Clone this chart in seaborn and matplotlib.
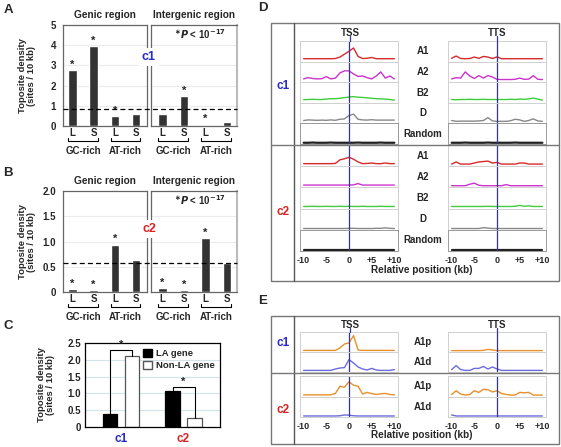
import numpy as np
import pandas as pd
import seaborn as sns
import matplotlib.pyplot as plt
from matplotlib.patches import Rectangle
from matplotlib.lines import Line2D
import matplotlib.transforms as mtrans

# 1. Dados
cats = ['GC-L', 'GC-S', 'AT-L', 'AT-S']
tick_ls = ['L', 'S', 'L', 'S']
grupos = ['GC-rich', 'AT-rich']

a_genic = [2.75, 3.94, 0.49, 0.59]
a_inter = [0.61, 1.47, 0.07, 0.22]
a_mean = 0.83
a_star_genic = [1, 1, 1, 0]
a_star_inter = [0, 1, 1, 0]

b_genic = [0.05, 0.03, 0.94, 0.64]
b_inter = [0.08, 0.03, 1.06, 0.58]
b_mean = 0.58
b_star_genic = [1, 1, 1, 0]
b_star_inter = [1, 1, 1, 0]

c_clusters = ['c1', 'c2']
c_genes = ['LA gene', 'Non-LA gene']
c_la = [0.40, 1.08]
c_nonla = [2.10, 0.26]
c_bracket = [2.30, 1.19]

pos_kb = [-10, -9, -8, -7, -6, -5, -4, -3, -2, -1, 0, 1, 2, 3, 4, 5, 6, 7, 8, 9, 10]
xtick_pos = [-10, -5, 0, 5, 10]
xtick_lab = ['-10', '-5', '0', '+5', '+10']

# D - c1
c1_tss_a1 = [0.14, 0.14, 0.14, 0.14, 0.14, 0.14, 0.14, 0.15, 0.22, 0.36, 0.5, 0.66, 0.25, 0.15, 0.16, 0.2, 0.14, 0.14, 0.14, 0.14, 0.14]
c1_tss_a2 = [0.16, 0.22, 0.18, 0.16, 0.17, 0.27, 0.16, 0.2, 0.45, 0.55, 0.55, 0.4, 0.28, 0.3, 0.22, 0.16, 0.3, 0.5, 0.2, 0.3, 0.16]
c1_tss_b2 = [0.15, 0.16, 0.17, 0.16, 0.16, 0.18, 0.2, 0.2, 0.22, 0.25, 0.28, 0.3, 0.27, 0.26, 0.24, 0.22, 0.2, 0.19, 0.18, 0.16, 0.13]
c1_tss_d = [0.14, 0.17, 0.16, 0.15, 0.16, 0.15, 0.17, 0.15, 0.2, 0.22, 0.38, 0.45, 0.2, 0.17, 0.16, 0.18, 0.16, 0.16, 0.16, 0.16, 0.16]
c1_tss_rnd = [0.06, 0.06, 0.07, 0.06, 0.06, 0.06, 0.07, 0.06, 0.06, 0.06, 0.06, 0.06, 0.07, 0.06, 0.06, 0.06, 0.06, 0.07, 0.06, 0.06, 0.06]
c1_tts_a1 = [0.16, 0.27, 0.15, 0.14, 0.15, 0.22, 0.16, 0.25, 0.22, 0.15, 0.23, 0.14, 0.14, 0.14, 0.14, 0.14, 0.14, 0.14, 0.14, 0.14, 0.14]
c1_tts_a2 = [0.16, 0.22, 0.2, 0.5, 0.3, 0.18, 0.32, 0.2, 0.32, 0.25, 0.14, 0.13, 0.13, 0.13, 0.14, 0.2, 0.14, 0.15, 0.32, 0.14, 0.13]
c1_tts_b2 = [0.16, 0.15, 0.16, 0.16, 0.17, 0.16, 0.16, 0.17, 0.16, 0.16, 0.16, 0.16, 0.16, 0.17, 0.16, 0.18, 0.17, 0.19, 0.23, 0.18, 0.13]
c1_tts_d = [0.14, 0.1, 0.11, 0.11, 0.11, 0.11, 0.12, 0.14, 0.28, 0.12, 0.1, 0.1, 0.1, 0.13, 0.2, 0.17, 0.1, 0.14, 0.22, 0.12, 0.1]
c1_tts_rnd = [0.06, 0.06, 0.06, 0.07, 0.06, 0.06, 0.06, 0.06, 0.07, 0.06, 0.06, 0.06, 0.06, 0.06, 0.07, 0.06, 0.06, 0.06, 0.06, 0.06, 0.06]

# D - c2
c2_tss_a1 = [0.12, 0.12, 0.12, 0.12, 0.12, 0.12, 0.12, 0.13, 0.3, 0.35, 0.42, 0.33, 0.2, 0.12, 0.13, 0.15, 0.12, 0.12, 0.15, 0.12, 0.12]
c2_tss_a2 = [0.11, 0.11, 0.11, 0.11, 0.11, 0.11, 0.11, 0.11, 0.11, 0.11, 0.11, 0.12, 0.18, 0.11, 0.11, 0.11, 0.11, 0.11, 0.11, 0.11, 0.11]
c2_tss_b2 = [0.1, 0.1, 0.11, 0.1, 0.1, 0.11, 0.1, 0.1, 0.11, 0.1, 0.11, 0.1, 0.1, 0.11, 0.1, 0.1, 0.1, 0.11, 0.1, 0.1, 0.1]
c2_tss_d = [0.06, 0.06, 0.06, 0.06, 0.06, 0.06, 0.06, 0.06, 0.06, 0.06, 0.07, 0.07, 0.06, 0.06, 0.06, 0.06, 0.07, 0.07, 0.09, 0.07, 0.06]
c2_tss_rnd = [0.05, 0.05, 0.05, 0.05, 0.05, 0.05, 0.05, 0.05, 0.05, 0.05, 0.05, 0.05, 0.05, 0.05, 0.05, 0.05, 0.05, 0.05, 0.05, 0.05, 0.05]
c2_tts_a1 = [0.1, 0.2, 0.1, 0.1, 0.1, 0.15, 0.2, 0.22, 0.24, 0.15, 0.18, 0.1, 0.1, 0.1, 0.1, 0.15, 0.15, 0.1, 0.1, 0.1, 0.1]
c2_tts_a2 = [0.08, 0.08, 0.08, 0.08, 0.15, 0.2, 0.1, 0.08, 0.08, 0.08, 0.08, 0.08, 0.13, 0.08, 0.08, 0.08, 0.08, 0.08, 0.08, 0.08, 0.08]
c2_tts_b2 = [0.1, 0.1, 0.1, 0.1, 0.1, 0.1, 0.1, 0.1, 0.11, 0.1, 0.1, 0.1, 0.1, 0.1, 0.11, 0.15, 0.11, 0.13, 0.1, 0.1, 0.1]
c2_tts_d = [0.06, 0.06, 0.06, 0.06, 0.06, 0.06, 0.06, 0.1, 0.08, 0.06, 0.06, 0.06, 0.06, 0.06, 0.06, 0.06, 0.06, 0.06, 0.06, 0.06, 0.06]
c2_tts_rnd = [0.05, 0.05, 0.05, 0.05, 0.05, 0.05, 0.05, 0.05, 0.05, 0.05, 0.05, 0.05, 0.05, 0.05, 0.05, 0.05, 0.05, 0.05, 0.05, 0.05, 0.05]

# E
e_c1_tss_a1p = [0.08, 0.08, 0.08, 0.08, 0.08, 0.08, 0.08, 0.08, 0.2, 0.4, 0.45, 0.82, 0.1, 0.08, 0.08, 0.08, 0.08, 0.08, 0.08, 0.08, 0.08]
e_c1_tss_a1d = [0.08, 0.08, 0.08, 0.08, 0.08, 0.08, 0.08, 0.15, 0.2, 0.22, 0.62, 0.45, 0.25, 0.15, 0.1, 0.18, 0.1, 0.08, 0.08, 0.08, 0.12]
e_c2_tss_a1p = [0.08, 0.08, 0.08, 0.08, 0.08, 0.08, 0.08, 0.15, 0.5, 0.45, 0.72, 0.55, 0.5, 0.12, 0.2, 0.14, 0.1, 0.13, 0.15, 0.1, 0.08]
e_c2_tss_a1d = [0.05, 0.05, 0.05, 0.05, 0.05, 0.05, 0.05, 0.05, 0.06, 0.1, 0.09, 0.06, 0.05, 0.05, 0.05, 0.05, 0.05, 0.05, 0.05, 0.05, 0.05]
e_c1_tts_a1p = [0.07, 0.07, 0.07, 0.07, 0.07, 0.07, 0.07, 0.08, 0.13, 0.1, 0.07, 0.07, 0.07, 0.07, 0.07, 0.07, 0.07, 0.07, 0.07, 0.07, 0.07]
e_c1_tts_a1d = [0.12, 0.32, 0.12, 0.08, 0.08, 0.18, 0.18, 0.28, 0.15, 0.25, 0.15, 0.08, 0.08, 0.08, 0.08, 0.08, 0.08, 0.08, 0.08, 0.08, 0.08]
e_c2_tts_a1p = [0.1, 0.28, 0.12, 0.07, 0.1, 0.28, 0.2, 0.35, 0.33, 0.22, 0.28, 0.15, 0.1, 0.07, 0.07, 0.2, 0.18, 0.2, 0.07, 0.07, 0.07]
e_c2_tts_a1d = [0.1, 0.05, 0.05, 0.05, 0.05, 0.05, 0.05, 0.05, 0.05, 0.05, 0.05, 0.05, 0.05, 0.05, 0.05, 0.05, 0.05, 0.05, 0.05, 0.05, 0.05]

d_labels = ['A1', 'A2', 'B2', 'D', 'Random']
d_cores = ['#d42a2a', '#cc33cc', '#3fcc3f', '#888888', '#222222']
e_labels = ['A1p', 'A1d']
e_cores = ['#e8902c', '#6b6be0']

AZUL = '#2a2acc'
VERM = '#dd2222'
NAVY = '#333399'

# 2. Estilo
sns.set_style('white')
plt.rcParams['font.family'] = ['Liberation Sans', 'DejaVu Sans']
plt.rcParams['font.weight'] = 'bold'
plt.rcParams['axes.labelweight'] = 'bold'

W, H = 561, 447
fig = plt.figure(figsize=(W / 100, H / 100), dpi=100)


def px_axes(x0, y0, x1, y1):
    return fig.add_axes([x0 / W, 1 - y1 / H, (x1 - x0) / W, (y1 - y0) / H])


def ftxt(x, y, s, **kw):
    kw.setdefault('ha', 'center')
    kw.setdefault('va', 'center')
    kw.setdefault('fontweight', 'bold')
    return fig.text(x / W, 1 - y / H, s, **kw)


def fline(xs, ys, **kw):
    fig.add_artist(Line2D([x / W for x in xs], [1 - y / H for y in ys], transform=fig.transFigure, **kw))


# --- PAINEIS A e B ---
def painel_regiao(top, bot, genic, inter, stars_g, stars_i, ymax, yticks, ylabs, media, clabel, ccor, cy):
    axes = []
    h = bot - top
    for (x0, x1, vals, stars, titulo, xl) in [(63, 147, genic, stars_g, 'Genic region', (-0.45, 3.52)),
                                            (151, 237, inter, stars_i, 'Intergenic region', (-0.53, 3.47))]:
        ax = px_axes(x0, top, x1, bot)
        df = pd.DataFrame({'cat': cats, 'val': vals})
        sns.barplot(data=df, x='cat', y='val', ax=ax, color='#333333', width=0.4, saturation=1)
        ax.set_xlim(*xl)
        ax.set_ylim(0, ymax)
        ax.set_yticks(yticks)
        for yy in yticks[1:-1]:
            ax.axhline(yy, color='#ebebeb', lw=0.8, zorder=0)
        ax.set_xticks(range(4))
        ax.set_xticklabels(tick_ls, fontsize=7)
        ax.tick_params(axis='x', length=0, pad=1.5)
        ax.set_xlabel('')
        ax.set_ylabel('')
        for s in ax.spines.values():
            s.set_color('#666666')
            s.set_linewidth(0.9)
        for i, (v, st) in enumerate(zip(vals, stars)):
            if st:
                ax.text(i, v + ymax * 0.005, '*', ha='center', va='bottom', fontsize=8)
        tr = mtrans.blended_transform_factory(ax.transData, ax.transAxes)
        for k, g in enumerate(grupos):
            xa, xb = 2 * k - 0.2, 2 * k + 1.2
            ax.add_line(Line2D([xa, xa, xb, xb], [-12 / h, -15 / h, -15 / h, -12 / h], transform=tr,
                               color='black', lw=0.8, clip_on=False))
            ax.text(2 * k + 0.5, -25 / h, g, transform=tr, ha='center', va='center', fontsize=7)
        ax.text(0.5, 1 + 10 / h, titulo, transform=ax.transAxes, ha='center', va='center', fontsize=7.3)
        axes.append(ax)
    axg, axi = axes
    axg.set_yticklabels(ylabs, fontsize=7)
    axg.tick_params(axis='y', length=0, pad=5)
    axi.set_yticklabels([])
    axi.tick_params(axis='y', length=0)
    axi.spines['right'].set_color('#bbbbbb')
    axi.spines['right'].set_linewidth(1.5)
    # linha tracejada da media, continua entre os dois eixos
    ym = bot - media / ymax * h
    fline([63, 237], [ym, ym], color='black', ls=(0, (4, 2.5)), lw=0.9)
    axi.text(0.57, 0.91, r'$^{\ast}$$\mathit{P}$ < 10$^{-17}$', transform=axi.transAxes,
             ha='center', va='center', fontsize=7)
    ftxt(149, cy, clabel, color=ccor, fontsize=9,
         bbox=dict(facecolor='white', edgecolor='none', pad=2))
    ftxt(27, (top + bot) / 2, 'Toposite density\n(sites / 10 kb)', rotation=90, fontsize=6.8,
         linespacing=1.05)


painel_regiao(25, 126, a_genic, a_inter, a_star_genic, a_star_inter, 5, [0, 1, 2, 3, 4, 5],
              ['0', '1', '2', '3', '4', '5'], a_mean, 'c1', AZUL, 57)
painel_regiao(191, 292, b_genic, b_inter, b_star_genic, b_star_inter, 2.0, [0, 0.5, 1.0, 1.5, 2.0],
              ['0', '0.5', '1.0', '1.5', '2.0'], b_mean, 'c2', VERM, 229)

ftxt(8, 10, 'A', fontsize=9.5)
ftxt(8, 173, 'B', fontsize=9.5)
ftxt(8, 326, 'C', fontsize=9.5)
ftxt(263, 8, 'D', fontsize=9.5)
ftxt(263, 301, 'E', fontsize=9.5)

# --- PAINEL C ---
axc = px_axes(85, 343, 220, 427)
dfc = pd.DataFrame({'cluster': c_clusters * 2,
                    'gene': [c_genes[0]] * 2 + [c_genes[1]] * 2,
                    'val': c_la + c_nonla})
sns.barplot(data=dfc, x='cluster', y='val', hue='gene', palette=['black', 'white'],
            width=0.704, gap=0.36, saturation=1, ax=axc, legend=False)
for cont, ec in zip(axc.containers, ['black', '#555555']):
    for p in cont:
        p.set_edgecolor(ec)
        p.set_linewidth(0.9)
axc.set_xlim(-0.576, 1.584)
axc.set_ylim(0, 2.5)
axc.set_yticks([0, 0.5, 1.0, 1.5, 2.0, 2.5])
axc.set_yticklabels(['0', '0.5', '1.0', '1.5', '2.0', '2.5'], fontsize=7)
for yy in [0.5, 1.0, 1.5, 2.0]:
    axc.axhline(yy, color='#d3e3ea', lw=0.8, zorder=0)
axc.tick_params(axis='y', length=0, pad=3)
axc.tick_params(axis='x', length=0, pad=4)
axc.set_xticks([0, 1])
axc.set_xticklabels(c_clusters, fontsize=8.5)
for tl, cc in zip(axc.get_xticklabels(), [AZUL, VERM]):
    tl.set_color(cc)
axc.set_xlabel('')
axc.set_ylabel('')
for s in axc.spines.values():
    s.set_color('black')
    s.set_linewidth(0.9)
for i in range(2):
    xa, xb = i - 0.176, i + 0.176
    yb = c_bracket[i]
    axc.plot([xa, xa, xb, xb], [c_la[i], yb, yb, c_nonla[i]], color='black', lw=0.8)
    axc.text(i, yb + 0.01, '*', ha='center', va='bottom', fontsize=8)
handles = [Rectangle((0, 0), 1, 1, facecolor='black', edgecolor='black'),
           Rectangle((0, 0), 1, 1, facecolor='white', edgecolor='#555555')]
axc.legend(handles, c_genes, loc='upper right', frameon=False, fontsize=6.8,
           handlelength=0.9, handleheight=0.9, handletextpad=0.4, labelspacing=0.35,
           borderaxespad=0.3, borderpad=0.3)
ftxt(46, 385, 'Toposite density\n(sites / 10 kb)', rotation=90, fontsize=6.8, linespacing=1.05)


# --- PAINEIS D e E ---
def mini_linhas(top, bot, curvas, labels, cores, com_ticks):
    n = len(labels)
    h = (bot - top) / n
    for i in range(n):
        for j, (x0, x1) in enumerate([(300, 398), (448, 546)]):
            ax = px_axes(x0, top + i * h, x1, top + (i + 1) * h)
            lw = 1.6 if labels[i] == 'Random' else 1.0
            sns.lineplot(x=pos_kb, y=curvas[j][i], ax=ax, color=cores[i], linewidth=lw)
            ax.axvline(0, color=NAVY, lw=0.9)
            ax.set_xlim(-10.8, 10.8)
            ax.set_ylim(0, 1)
            ax.set_yticks([0.35, 0.7])
            ax.set_yticklabels([])
            ax.tick_params(axis='y', length=2, width=0.6, color='#aaaaaa', direction='in', pad=1)
            for s in ax.spines.values():
                s.set_color('#d0d0d0')
                s.set_linewidth(0.7)
            if labels[i] == 'Random':
                for s in ax.spines.values():
                    s.set_color('#999999')
            if com_ticks and i == n - 1:
                ax.set_xticks(xtick_pos)
                ax.set_xticklabels(xtick_lab, fontsize=6.5)
                ax.tick_params(axis='x', length=2, width=0.6, color='#888888', pad=1.5)
            else:
                ax.set_xticks([])
        ftxt(423, top + (i + 0.5) * h, labels[i], fontsize=7)


# caixas
for (t, b, hdiv) in [(23, 281, 144.5), (316, 444, 373)]:
    fig.add_artist(Rectangle((271 / W, 1 - b / H), (559 - 271) / W, (b - t) / H, transform=fig.transFigure,
                             fill=False, edgecolor='#777777', lw=1.0))
    fline([294, 294], [t, b], color='#555555', lw=1.0)
    fline([271, 559], [hdiv, hdiv], color='#777777', lw=1.0)

# D
ftxt(350, 33, 'TSS', fontsize=7)
ftxt(497, 33, 'TTS', fontsize=7)
fline([349.5, 349.5], [36, 41], color=NAVY, lw=0.9)
fline([496.5, 496.5], [36, 41], color=NAVY, lw=0.9)
mini_linhas(41, 144, [[c1_tss_a1, c1_tss_a2, c1_tss_b2, c1_tss_d, c1_tss_rnd],
                      [c1_tts_a1, c1_tts_a2, c1_tts_b2, c1_tts_d, c1_tts_rnd]],
            d_labels, d_cores, False)
mini_linhas(145, 251, [[c2_tss_a1, c2_tss_a2, c2_tss_b2, c2_tss_d, c2_tss_rnd],
                       [c2_tts_a1, c2_tts_a2, c2_tts_b2, c2_tts_d, c2_tts_rnd]],
            d_labels, d_cores, True)
ftxt(283, 86, 'c1', color=AZUL, fontsize=8.5)
ftxt(283, 212, 'c2', color=VERM, fontsize=8.5)
ftxt(422, 270, 'Relative position (kb)', fontsize=7.2)

# E
ftxt(350, 325, 'TSS', fontsize=7)
ftxt(497, 325, 'TTS', fontsize=7)
fline([349.5, 349.5], [328, 332], color=NAVY, lw=0.9)
fline([496.5, 496.5], [328, 332], color=NAVY, lw=0.9)
mini_linhas(332, 372, [[e_c1_tss_a1p, e_c1_tss_a1d], [e_c1_tts_a1p, e_c1_tts_a1d]],
            e_labels, e_cores, False)
mini_linhas(376, 417, [[e_c2_tss_a1p, e_c2_tss_a1d], [e_c2_tts_a1p, e_c2_tts_a1d]],
            e_labels, e_cores, True)
ftxt(283, 343, 'c1', color=AZUL, fontsize=8.5)
ftxt(283, 410, 'c2', color=VERM, fontsize=8.5)
ftxt(422, 435, 'Relative position (kb)', fontsize=7.2)

plt.savefig('out.png', dpi=100)
plt.close()
print('ok')
